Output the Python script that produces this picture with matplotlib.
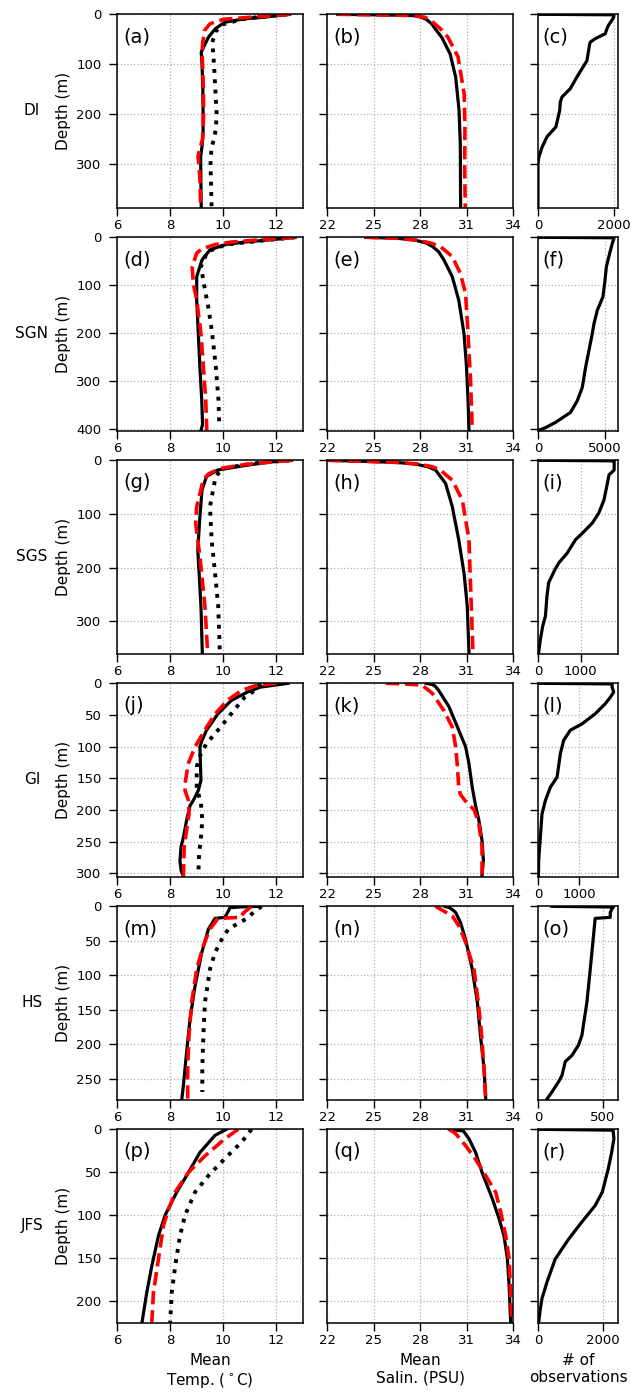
import matplotlib
matplotlib.use("Agg")
import matplotlib.pyplot as plt

# ---------------- data ----------------
regions = ["DI", "SGN", "SGS", "GI", "HS", "JFS"]
panel_letters = ["a", "b", "c", "d", "e", "f", "g", "h", "i",
                 "j", "k", "l", "m", "n", "o", "p", "q", "r"]
depth_max = [388, 403, 360, 305, 280, 225]
depth_ticks = [[0, 100, 200, 300], [0, 100, 200, 300, 400], [0, 100, 200, 300],
               [0, 50, 100, 150, 200, 250, 300], [0, 50, 100, 150, 200, 250],
               [0, 50, 100, 150, 200]]
obs_max = [2100, 6000, 1880, 1930, 620, 2450]
obs_ticks = [[0, 2000], [0, 5000], [0, 1000], [0, 1000], [0, 500], [0, 2000]]
temp_ticks = [6, 8, 10, 12]
sal_ticks = [22, 25, 28, 31, 34]

# DI
di_ts_z = [0, 3, 6, 9, 16, 29, 46, 76, 100, 150, 200, 240, 265, 285, 300, 350, 388]
di_ts = [12.5, 12.0, 11.5, 10.8, 10.05, 9.7, 9.44, 9.17, 9.2, 9.23, 9.24, 9.24, 9.2, 9.15, 9.15, 9.16, 9.17]
di_tr_z = [0, 3, 6, 10, 19, 32, 59, 80, 100, 150, 200, 250, 270, 285, 300, 330, 388]
di_tr = [12.5, 11.8, 11.0, 10.0, 9.5, 9.3, 9.22, 9.2, 9.22, 9.25, 9.26, 9.22, 9.12, 9.05, 9.08, 9.12, 9.15]
di_td_z = [0, 5, 10, 20, 35, 56, 100, 150, 200, 230, 250, 270, 300, 388]
di_td = [12.4, 11.4, 10.7, 10.0, 9.7, 9.59, 9.65, 9.7, 9.75, 9.72, 9.65, 9.55, 9.52, 9.56]
di_ss_z = [0, 1, 2, 3, 6, 10, 19, 30, 46, 80, 126, 193, 260, 388]
di_ss = [22.7, 25.0, 27.0, 27.7, 28.1, 28.4, 28.75, 29.0, 29.4, 29.95, 30.3, 30.52, 30.6, 30.62]
di_sr_z = [0, 1, 2, 3, 6, 10, 19, 30, 46, 85, 160, 230, 300, 388]
di_sr = [22.7, 25.0, 27.0, 27.8, 28.3, 28.6, 28.95, 29.35, 29.8, 30.45, 30.85, 30.9, 30.88, 30.92]
di_n_z = [0, 1, 5, 12, 22, 29, 39, 49, 56, 60, 93, 126, 149, 166, 176, 193, 226, 246, 267, 287, 300, 388]
di_n = [0, 1990, 1990, 1940, 1850, 1810, 1765, 1500, 1370, 1355, 1285, 1020, 850, 630, 585, 570, 470, 235, 105, 20, 0, 0]

# SGN
sgn_ts_z = [0, 3, 6, 10, 15, 26, 47, 82, 131, 201, 271, 340, 390, 403]
sgn_ts = [12.7, 12.2, 11.6, 10.8, 10.1, 9.5, 9.2, 9.0, 9.0, 9.06, 9.12, 9.19, 9.22, 9.16]
sgn_tr_z = [0, 3, 6, 10, 15, 24, 33, 61, 96, 131, 201, 270, 340, 403]
sgn_tr = [12.7, 12.0, 11.2, 10.3, 9.7, 9.2, 9.0, 8.83, 8.87, 9.0, 9.16, 9.25, 9.34, 9.38]
sgn_td_z = [0, 6, 15, 30, 61, 100, 150, 200, 270, 340, 393]
sgn_td = [12.7, 11.6, 10.1, 9.4, 9.16, 9.28, 9.45, 9.58, 9.72, 9.82, 9.85]
sgn_ss_z = [0, 2, 6, 12, 19, 30, 47, 82, 131, 201, 270, 340, 403]
sgn_ss = [24.5, 26.5, 27.7, 28.4, 28.8, 29.2, 29.54, 30.08, 30.5, 30.84, 31.0, 31.1, 31.16]
sgn_sr_z = [0, 2, 6, 12, 19, 40, 75, 117, 201, 305, 403]
sgn_sr = [24.5, 26.5, 27.8, 28.7, 29.3, 30.08, 30.6, 30.94, 31.1, 31.27, 31.37]
sgn_n_z = [0, 1, 2, 12, 33, 61, 96, 124, 152, 180, 201, 236, 271, 313, 341, 365, 386, 397, 403]
sgn_n = [0, 5650, 5700, 5580, 5380, 5130, 5000, 4870, 4450, 4200, 4070, 3820, 3570, 3320, 2940, 2440, 1310, 550, 0]

# SGS
sgs_ts_z = [0, 3, 9, 18, 30, 55, 105, 167, 210, 272, 358]
sgs_ts = [12.56, 11.8, 10.9, 9.8, 9.37, 9.2, 9.12, 9.04, 9.09, 9.16, 9.21]
sgs_tr_z = [0, 3, 8, 15, 25, 36, 86, 117, 179, 272, 358]
sgs_tr = [12.56, 11.8, 10.8, 9.9, 9.45, 9.25, 9.0, 8.96, 9.12, 9.31, 9.41]
sgs_td_z = [0, 5, 10, 15, 25, 36, 86, 148, 210, 272, 358]
sgs_td = [12.5, 11.3, 10.6, 10.06, 9.8, 9.69, 9.5, 9.56, 9.69, 9.81, 9.87]
sgs_ss_z = [0, 2, 4, 7, 12, 18, 43, 86, 148, 210, 272, 358]
sgs_ss = [22.1, 24.5, 26.5, 27.7, 28.5, 29.0, 29.65, 30.08, 30.5, 30.84, 31.05, 31.16]
sgs_sr_z = [0, 2, 4, 7, 12, 18, 37, 74, 148, 241, 358]
sgs_sr = [22.1, 24.5, 26.5, 27.9, 28.8, 29.3, 30.08, 30.73, 31.16, 31.27, 31.42]
sgs_n_z = [0, 1, 4, 18, 27, 43, 74, 98, 117, 136, 148, 173, 191, 204, 228, 253, 290, 309, 334, 358]
sgs_n = [0, 1790, 1790, 1790, 1670, 1630, 1550, 1430, 1275, 1040, 880, 685, 490, 395, 250, 210, 175, 110, 55, 15]

# GI
gi_ts_z = [0, 6, 14, 27, 48, 74, 90, 100, 153, 169, 185, 193, 216, 243, 258, 280, 295, 305]
gi_ts = [12.44, 11.4, 10.9, 10.3, 9.8, 9.37, 9.2, 9.12, 9.16, 9.06, 8.87, 8.75, 8.62, 8.5, 8.41, 8.37, 8.41, 8.5]
gi_tr_z = [0, 4, 11, 27, 48, 74, 100, 127, 153, 169, 185, 206, 232, 258, 305]
gi_tr = [12.0, 11.2, 10.7, 10.15, 9.7, 9.3, 8.94, 8.68, 8.58, 8.56, 8.69, 8.71, 8.62, 8.53, 8.5]
gi_td_z = [0, 11, 22, 48, 74, 95, 111, 132, 164, 190, 216, 243, 269, 303]
gi_td = [11.4, 11.2, 10.8, 10.3, 9.8, 9.37, 9.16, 9.0, 9.0, 9.16, 9.21, 9.16, 9.09, 9.06]
gi_ss_z = [0, 2, 5, 11, 37, 74, 100, 127, 164, 195, 216, 248, 279, 303]
gi_ss = [28.4, 28.8, 29.0, 29.2, 29.87, 30.5, 30.94, 31.16, 31.37, 31.6, 31.8, 32.0, 32.09, 32.0]
gi_sr_z = [0, 1, 3, 16, 43, 69, 100, 127, 164, 175, 185, 200, 222, 258, 305]
gi_sr = [25.8, 27.0, 28.14, 28.8, 29.54, 30.08, 30.3, 30.4, 30.5, 30.6, 30.9, 31.5, 31.8, 32.0, 32.0]
gi_n_z = [0, 1, 5, 14, 22, 32, 48, 64, 74, 90, 111, 148, 164, 185, 206, 243, 280, 305]
gi_n = [0, 1790, 1785, 1825, 1745, 1625, 1383, 1061, 780, 619, 540, 460, 298, 177, 97, 56, 16, 10]

# HS
hs_ts_z = [0, 1, 2, 7, 16, 17.5, 33, 67, 115, 163, 211, 259, 279]
hs_ts = [11.37, 10.6, 10.25, 10.19, 10.06, 9.69, 9.44, 9.19, 8.94, 8.75, 8.62, 8.5, 8.44]
hs_tr_z = [0, 5, 10, 16, 17.5, 33, 57, 91, 139, 187, 235, 279]
hs_tr = [11.06, 10.9, 10.75, 10.65, 9.8, 9.5, 9.25, 9.0, 8.81, 8.71, 8.66, 8.66]
hs_td_z = [0, 7, 18, 33, 48, 67, 91, 139, 187, 235, 269]
hs_td = [11.44, 11.19, 10.87, 10.19, 9.94, 9.69, 9.5, 9.31, 9.25, 9.21, 9.21]
hs_ss_z = [0, 2, 5, 9, 24, 48, 91, 139, 187, 235, 279]
hs_ss = [29.6, 29.9, 30.1, 30.3, 30.62, 30.94, 31.37, 31.7, 31.9, 32.13, 32.24]
hs_sr_z = [0, 7, 14, 28, 52, 91, 139, 187, 235, 279]
hs_sr = [29.0, 29.54, 30.08, 30.5, 30.94, 31.48, 31.76, 31.98, 32.13, 32.24]
hs_n_z = [0, 1, 4, 9, 16, 17.5, 43, 91, 139, 187, 201, 216, 225, 245, 254, 269, 279]
hs_n = [108, 585, 572, 560, 560, 443, 430, 405, 379, 340, 314, 263, 211, 186, 160, 108, 70]

# JFS
jfs_ts_z = [0, 7, 27, 54, 73, 100, 124, 159, 190, 225]
jfs_ts = [10.12, 9.69, 9.12, 8.62, 8.25, 7.81, 7.56, 7.31, 7.12, 6.94]
jfs_tr_z = [0, 11, 31, 50, 73, 93, 112, 151, 190, 225]
jfs_tr = [10.56, 10.06, 9.31, 8.69, 8.19, 7.94, 7.75, 7.56, 7.37, 7.31]
jfs_td_z = [0, 15, 34, 54, 73, 100, 124, 159, 190, 225]
jfs_td = [11.06, 10.69, 10.06, 9.44, 8.94, 8.56, 8.37, 8.19, 8.06, 8.0]
jfs_ss_z = [0, 2, 11, 27, 50, 81, 104, 124, 151, 182, 225]
jfs_ss = [29.9, 30.8, 31.16, 31.59, 32.0, 32.67, 33.1, 33.42, 33.64, 33.75, 33.85]
jfs_sr_z = [0, 5, 19, 35, 54, 73, 96, 124, 151, 190, 225]
jfs_sr = [29.87, 30.3, 30.94, 31.59, 32.24, 32.88, 33.2, 33.53, 33.75, 33.85, 33.92]
jfs_n_z = [0, 1, 3, 11, 27, 46, 73, 89, 108, 128, 151, 178, 197, 209, 225]
jfs_n = [0, 2300, 2305, 2325, 2254, 2152, 1970, 1746, 1340, 934, 528, 274, 122, 71, 20]

temp_solid = [(di_ts, di_ts_z), (sgn_ts, sgn_ts_z), (sgs_ts, sgs_ts_z), (gi_ts, gi_ts_z), (hs_ts, hs_ts_z), (jfs_ts, jfs_ts_z)]
temp_red = [(di_tr, di_tr_z), (sgn_tr, sgn_tr_z), (sgs_tr, sgs_tr_z), (gi_tr, gi_tr_z), (hs_tr, hs_tr_z), (jfs_tr, jfs_tr_z)]
temp_dot = [(di_td, di_td_z), (sgn_td, sgn_td_z), (sgs_td, sgs_td_z), (gi_td, gi_td_z), (hs_td, hs_td_z), (jfs_td, jfs_td_z)]
sal_solid = [(di_ss, di_ss_z), (sgn_ss, sgn_ss_z), (sgs_ss, sgs_ss_z), (gi_ss, gi_ss_z), (hs_ss, hs_ss_z), (jfs_ss, jfs_ss_z)]
sal_red = [(di_sr, di_sr_z), (sgn_sr, sgn_sr_z), (sgs_sr, sgs_sr_z), (gi_sr, gi_sr_z), (hs_sr, hs_sr_z), (jfs_sr, jfs_sr_z)]
nobs = [(di_n, di_n_z), (sgn_n, sgn_n_z), (sgs_n, sgs_n_z), (gi_n, gi_n_z), (hs_n, hs_n_z), (jfs_n, jfs_n_z)]

# ---------------- figure ----------------
W, H = 631, 1395
fig = plt.figure(figsize=(W / 100, H / 100), dpi=100)

col_left = [117, 327, 538]
col_width = [186, 186, 80]
row_top0, row_pitch, row_h = 14.3, 223.0, 193.3

grid_kw = dict(linestyle=':', color='#b0b0b0', linewidth=0.9)


def style(ax):
    for s in ax.spines.values():
        s.set_linewidth(1.1)
    ax.tick_params(direction='out', length=5.5, width=1.0, labelsize=9.5)
    ax.tick_params(axis='x', pad=3)
    ax.tick_params(axis='y', pad=5.5)
    ax.grid(True, **grid_kw)
    ax.set_axisbelow(True)


for r in range(6):
    top = row_top0 + r * row_pitch
    bottom = 1 - (top + row_h) / H
    axes = []
    for c in range(3):
        ax = fig.add_axes([col_left[c] / W, bottom, col_width[c] / W, row_h / H])
        style(ax)
        ax.set_ylim(depth_max[r], 0)
        ax.set_yticks(depth_ticks[r])
        if c > 0:
            ax.set_yticklabels([])
        axes.append(ax)
    a1, a2, a3 = axes

    t, z = temp_dot[r]
    a1.plot(t, z, color='black', linestyle=':', linewidth=2.8)
    t, z = temp_solid[r]
    a1.plot(t, z, color='black', linestyle='-', linewidth=2.3)
    t, z = temp_red[r]
    a1.plot(t, z, color='red', linestyle='--', linewidth=2.6)
    a1.set_xlim(6, 13)
    a1.set_xticks(temp_ticks)

    s, z = sal_solid[r]
    a2.plot(s, z, color='black', linestyle='-', linewidth=2.3)
    s, z = sal_red[r]
    a2.plot(s, z, color='red', linestyle='--', linewidth=2.6)
    a2.set_xlim(22, 34)
    a2.set_xticks(sal_ticks)

    n, z = nobs[r]
    a3.plot(n, z, color='black', linestyle='-', linewidth=2.3)
    a3.set_xlim(0, obs_max[r])
    a3.set_xticks(obs_ticks[r])

    for c, ax in enumerate(axes):
        ax.text(0.035 if c < 2 else 0.05, 0.885, '(' + panel_letters[3 * r + c] + ')',
                transform=ax.transAxes, fontsize=14, ha='left', va='center')

    a1.set_ylabel('Depth (m)', fontsize=11, labelpad=4)
    fig.text(32 / W, 1 - (top + row_h / 2) / H, regions[r], fontsize=11,
             ha='center', va='center')

    if r == 5:
        a1.set_xlabel('Mean\nTemp. ($^\\circ$C)', fontsize=11)
        a2.set_xlabel('Mean\nSalin. (PSU)', fontsize=11)
        a3.set_xlabel('# of\nobservations', fontsize=11)

fig.savefig('out.png', dpi=100)
